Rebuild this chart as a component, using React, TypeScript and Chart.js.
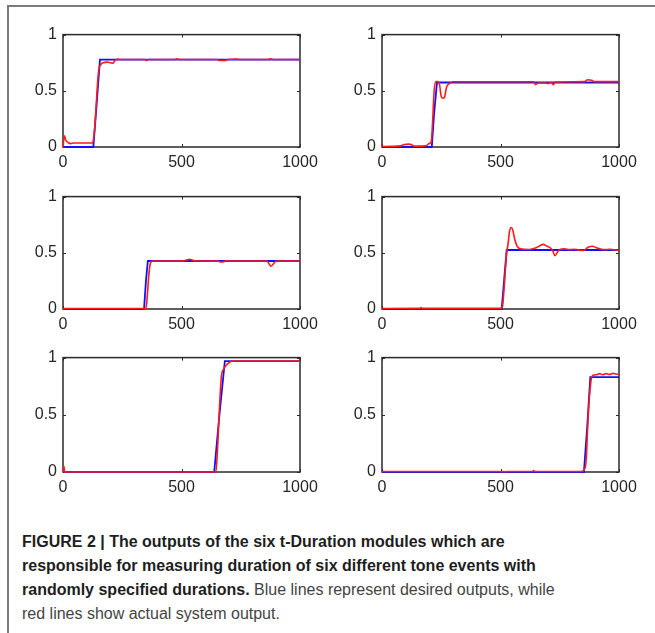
import React, { useEffect, useRef } from "react";
import { Chart, registerables } from "chart.js";

Chart.register(...registerables);

// ---------- data (x: time step, y: output) ----------
const xTicks = [0, 500, 1000];
const yTicks = [0, 0.5, 1];

const desired1 = [[0, 0], [128, 0], [142, 0.38], [156, 0.778], [1000, 0.778]];
const actual1 = [[0, 0], [6, 0.1], [12, 0.06], [22, 0.04], [32, 0.03], [45, 0.035], [125, 0.035], [133, 0.15], [140, 0.37], [147, 0.6], [152, 0.7], [158, 0.73], [170, 0.75], [185, 0.755], [200, 0.75], [210, 0.745], [220, 0.77], [230, 0.782], [240, 0.778], [345, 0.778], [352, 0.77], [360, 0.778], [470, 0.778], [480, 0.784], [495, 0.778], [650, 0.778], [660, 0.77], [685, 0.77], [695, 0.778], [735, 0.783], [745, 0.778], [860, 0.778], [875, 0.784], [890, 0.778], [1000, 0.778]];

const desired2 = [[0, 0], [210, 0], [220, 0.3], [232, 0.574], [1000, 0.574]];
const actual2 = [[0, 0.01], [5, 0.005], [80, 0.01], [90, 0.02], [115, 0.026], [125, 0.02], [135, 0.008], [185, 0.01], [198, 0.03], [208, 0.05], [213, 0.2], [220, 0.5], [228, 0.582], [236, 0.582], [243, 0.55], [250, 0.45], [258, 0.434], [265, 0.45], [272, 0.53], [285, 0.565], [300, 0.58], [640, 0.58], [648, 0.555], [660, 0.57], [690, 0.57], [700, 0.565], [715, 0.575], [723, 0.555], [732, 0.578], [855, 0.582], [868, 0.598], [885, 0.594], [895, 0.582], [1000, 0.582]];

const desired3 = [[0, 0], [342, 0], [350, 0.25], [358, 0.427], [1000, 0.427]];
const actual3 = [[0, 0.004], [350, 0.004], [355, 0.1], [362, 0.3], [368, 0.4], [378, 0.427], [500, 0.427], [520, 0.435], [535, 0.442], [550, 0.432], [560, 0.427], [655, 0.427], [665, 0.418], [680, 0.42], [690, 0.432], [700, 0.427], [860, 0.427], [870, 0.4], [877, 0.38], [889, 0.405], [900, 0.427], [1000, 0.427]];

const desired4 = [[0, 0], [505, 0], [515, 0.25], [526, 0.525], [1000, 0.525]];
const actual4 = [[0, 0.005], [160, 0.006], [165, 0.012], [170, 0.006], [500, 0.006], [508, 0.02], [514, 0.15], [520, 0.33], [526, 0.5], [532, 0.58], [538, 0.69], [545, 0.725], [552, 0.7], [560, 0.62], [570, 0.56], [585, 0.535], [620, 0.53], [640, 0.538], [660, 0.555], [680, 0.575], [695, 0.56], [710, 0.545], [720, 0.52], [730, 0.474], [740, 0.505], [750, 0.53], [770, 0.535], [790, 0.528], [810, 0.532], [830, 0.525], [850, 0.52], [870, 0.55], [888, 0.558], [905, 0.545], [920, 0.535], [940, 0.528], [960, 0.532], [1000, 0.52]];

const desired5 = [[0, 0], [638, 0], [660, 0.5], [683, 0.97], [1000, 0.97]];
const actual5 = [[0, 0], [4, 0.05], [7, 0], [645, 0], [652, 0.2], [660, 0.55], [668, 0.83], [678, 0.9], [690, 0.935], [705, 0.963], [720, 0.97], [1000, 0.97]];

const desired6 = [[0, 0], [852, 0], [866, 0.4], [879, 0.83], [1000, 0.83]];
const actual6 = [[0, 0.005], [500, 0.005], [520, 0.002], [530, 0.005], [635, 0.005], [640, 0.012], [645, 0.005], [842, 0.005], [856, 0.03], [862, 0.12], [868, 0.4], [875, 0.65], [882, 0.8], [890, 0.845], [905, 0.85], [918, 0.86], [930, 0.85], [945, 0.86], [960, 0.852], [975, 0.862], [990, 0.855], [1000, 0.855]];

// ---------- layout ----------
const PAD_LEFT = 45;
const PAD_TOP = 12;
const PAD_RIGHT = 25;
const PAD_BOTTOM = 25;

const panels = [
  { left: 63, top: 31, w: 237, h: 116, desired: desired1, actual: actual1 },
  { left: 382, top: 31, w: 237, h: 116, desired: desired2, actual: actual2 },
  { left: 63, top: 193, w: 237, h: 116, desired: desired3, actual: actual3 },
  { left: 382, top: 193, w: 237, h: 116, desired: desired4, actual: actual4 },
  { left: 63, top: 354, w: 237, h: 118, desired: desired5, actual: actual5 },
  { left: 382, top: 354, w: 237, h: 118, desired: desired6, actual: actual6 },
];

const toPoints = (arr: number[][]) => arr.map(([x, y]) => ({ x, y }));

const boxPlugin = {
  id: "matlabBox",
  beforeDatasetsDraw(chart: any) {
    const { ctx, chartArea: a, scales } = chart;
    ctx.save();
    ctx.strokeStyle = "#2a2a2a";
    ctx.lineWidth = 1.5;
    ctx.strokeRect(a.left, a.top, a.right - a.left, a.bottom - a.top);
    ctx.lineWidth = 1;
    const tl = 3;
    scales.x.ticks.forEach((t: any) => {
      const px = Math.round(scales.x.getPixelForValue(t.value)) + 0.5;
      ctx.beginPath();
      ctx.moveTo(px, a.bottom);
      ctx.lineTo(px, a.bottom - tl);
      ctx.moveTo(px, a.top);
      ctx.lineTo(px, a.top + tl);
      ctx.stroke();
    });
    scales.y.ticks.forEach((t: any) => {
      const py = Math.round(scales.y.getPixelForValue(t.value)) + 0.5;
      ctx.beginPath();
      ctx.moveTo(a.left, py);
      ctx.lineTo(a.left + tl, py);
      ctx.moveTo(a.right, py);
      ctx.lineTo(a.right - tl, py);
      ctx.stroke();
    });
    ctx.restore();
  },
};

const tickFont = { family: '"Liberation Sans", Arial, sans-serif', size: 16 };

function Panel(props: { left: number; top: number; w: number; h: number; desired: number[][]; actual: number[][] }) {
  const ref = useRef<HTMLCanvasElement | null>(null);
  const cw = PAD_LEFT + props.w + PAD_RIGHT;
  const ch = PAD_TOP + props.h + PAD_BOTTOM;
  useEffect(() => {
    if (!ref.current) return;
    const chart = new Chart(ref.current, {
      type: "line",
      data: {
        datasets: [
          {
            label: "actual",
            data: toPoints(props.actual),
            borderColor: "#ff1a1a",
            borderWidth: 1.6,
            pointRadius: 0,
            cubicInterpolationMode: "monotone",
            fill: false,
            clip: false,
            order: 0,
          },
          {
            label: "desired",
            data: toPoints(props.desired),
            borderColor: "#1010ff",
            borderWidth: 1.8,
            pointRadius: 0,
            tension: 0,
            fill: false,
            clip: false,
            order: 1,
          },
        ],
      },
      options: {
        animation: false,
        responsive: false,
        maintainAspectRatio: false,
        devicePixelRatio: 1,
        layout: { autoPadding: false, padding: { left: 0, top: PAD_TOP, right: PAD_RIGHT, bottom: 0 } },
        plugins: { legend: { display: false }, tooltip: { enabled: false } },
        scales: {
          x: {
            type: "linear",
            min: 0,
            max: 1000,
            afterFit: (s: any) => { s.height = PAD_BOTTOM; },
            afterBuildTicks: (s: any) => { s.ticks = xTicks.map((v) => ({ value: v })); },
            grid: { display: false, drawTicks: false },
            border: { display: false },
            ticks: { color: "#262626", font: tickFont, padding: 6, maxRotation: 0, callback: (v: any) => String(v) },
          },
          y: {
            type: "linear",
            min: 0,
            max: 1,
            afterFit: (s: any) => { s.width = PAD_LEFT; },
            afterBuildTicks: (s: any) => { s.ticks = yTicks.map((v) => ({ value: v })); },
            grid: { display: false, drawTicks: false },
            border: { display: false },
            ticks: { color: "#262626", font: tickFont, padding: 6, callback: (v: any) => String(v) },
          },
        },
      },
      plugins: [boxPlugin],
    } as any);
    return () => chart.destroy();
  }, []);
  return (
    <canvas
      ref={ref}
      width={cw}
      height={ch}
      style={{ position: "absolute", left: props.left - PAD_LEFT, top: props.top - PAD_TOP, width: cw, height: ch }}
    />
  );
}

export default function App() {
  return (
    <div style={{ position: "absolute", left: 0, top: 0, width: 655, height: 633, background: "#fff", overflow: "hidden" }}>
      <div
        style={{
          position: "absolute",
          left: 7,
          top: 5,
          width: 660,
          height: 640,
          borderTop: "2px solid #7a7a7a",
          borderLeft: "2px solid #7a7a7a",
        }}
      />
      {panels.map((p, i) => (
        <Panel key={i} {...p} />
      ))}
      <div
        style={{
          position: "absolute",
          left: 22,
          top: 530,
          width: 630,
          fontFamily: '"Liberation Sans", Arial, sans-serif',
          fontSize: 16,
          lineHeight: "24px",
          color: "#444",
          whiteSpace: "nowrap",
        }}
      >
        <b style={{ color: "#1e1e1e" }}>FIGURE 2 | The outputs of the six t-Duration modules which are</b>
        <br />
        <b style={{ color: "#1e1e1e" }}>responsible for measuring duration of six different tone events with</b>
        <br />
        <b style={{ color: "#1e1e1e" }}>randomly specified durations.</b> Blue lines represent desired outputs, while
        <br />
        red lines show actual system output.
      </div>
    </div>
  );
}
